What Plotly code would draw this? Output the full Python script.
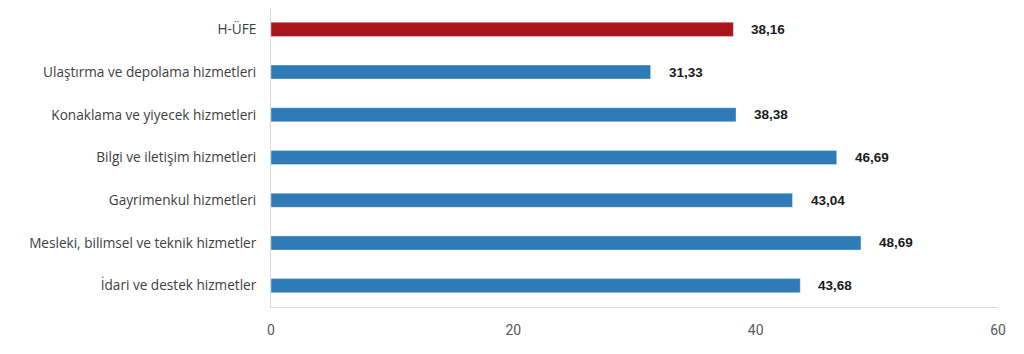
import plotly.graph_objects as go

categories = [
    "H-ÜFE",
    "Ulaştırma ve depolama hizmetleri",
    "Konaklama ve yiyecek hizmetleri",
    "Bilgi ve iletişim hizmetleri",
    "Gayrimenkul hizmetleri",
    "Mesleki, bilimsel ve teknik hizmetler",
    "İdari ve destek hizmetler",
]
values = [38.16, 31.33, 38.38, 46.69, 43.04, 48.69, 43.68]
tick_vals = [0, 20, 40, 60]

colors = ["#A9151D" if c == "H-ÜFE" else "#2E7BB8" for c in categories]

fig = go.Figure()
fig.add_trace(go.Bar(
    x=values, y=categories, orientation="h",
    marker=dict(color=colors, line=dict(color="rgba(255,255,255,0.35)", width=1)),
    hoverinfo="skip",
))

for c, v in zip(categories, values):
    fig.add_annotation(
        x=v, y=c, text=f"{v:.2f}".replace(".", ","), showarrow=False,
        xanchor="left", yanchor="middle", xshift=16,
        font=dict(family="Liberation Sans, Arial, sans-serif", size=13.5, color="#1a1a1a", weight="bold"),
    )

fig.update_layout(
    width=1024, height=354,
    margin=dict(l=271, r=26, t=8, b=47),
    paper_bgcolor="white", plot_bgcolor="white",
    bargap=0.67,
    showlegend=False,
    xaxis=dict(
        range=[0, 60], tickvals=tick_vals, showgrid=False, zeroline=False,
        showline=True, linecolor="#D9D9D9", linewidth=1,
        ticks="", tickfont=dict(family="Roboto, sans-serif", size=14, color="#595959"),
        ticklabelstandoff=10,
    ),
    yaxis=dict(
        autorange="reversed", showgrid=False, zeroline=False,
        showline=True, linecolor="#D9D9D9", linewidth=1,
        ticks="", ticklabelstandoff=11,
        tickfont=dict(family="Open Sans, Noto Sans, sans-serif", size=13.6, color="#404040"),
    ),
)

fig.write_html("out.html")
